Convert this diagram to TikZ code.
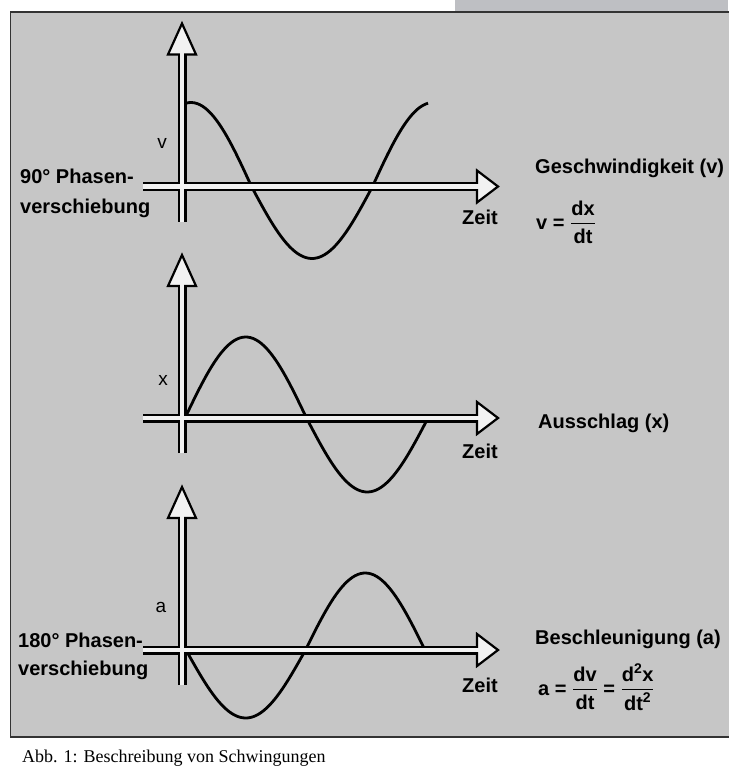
\documentclass[tikz,border=0pt]{standalone}
\usepackage{amsmath}
\usepackage{fontspec}
\setmainfont{Liberation Sans}
\newfontfamily\captionfont{Liberation Serif}

\definecolor{paper}{HTML}{C6C6C6}
\definecolor{tabgrey}{HTML}{BEBFC3}
\definecolor{framegrey}{HTML}{333333}
\definecolor{axisfill}{HTML}{F2F2F2}

\tikzset{
  txt/.style={font=\fontsize{20}{24}\selectfont\bfseries, inner sep=0pt},
  axletter/.style={font=\fontsize{19}{22}\selectfont, inner sep=0pt},
  captxt/.style={font=\captionfont\fontsize{18}{20}\selectfont, inner sep=0pt},
  wave/.style={line width=2.8pt, black, line join=round},
  shaftout/.style={line width=9pt, black},
  shaftin/.style={line width=4.5pt, axisfill},
  axhead/.style={fill=axisfill, draw=black, line width=2.2pt, line join=miter},
}

\begin{document}
\begin{tikzpicture}[x=1pt, y=-1pt]
    \useasboundingbox (0,0) rectangle (728,767);

    % Page and frame
    \fill[tabgrey] (455,0) rectangle (728,12.3);
    \fill[paper] (10.5,12.3) rectangle (740,737);
    \draw[framegrey, line width=1.8pt] (740,12.3) -- (10.5,12.3) -- (10.5,737) -- (740,737);

    % Curves: velocity, displacement, acceleration
    \draw[wave] plot[domain=-7.4:352.6, samples=90] ({191+\x/360*242}, {186.5-84*max(cos(\x),0)-72*min(cos(\x),0)});
    \draw[wave] plot[domain=0:360, samples=90] ({185+\x/360*243}, {418-81*max(sin(\x),0)-74*min(sin(\x),0)});
    \draw[wave] plot[domain=0:360, samples=90] ({186+\x/360*239}, {650+68*max(sin(\x),0)+77*min(sin(\x),0)});

    % Axes (hollow arrows)
    \foreach \ay in {186.5, 418, 650} {
        \draw[shaftout] (143,\ay) -- (478,\ay);
        \draw[shaftout] (182,\ay+35) -- (182,\ay-131);
        \draw[axhead] (477,\ay-16) -- (498,\ay) -- (477,\ay+16) -- cycle;
        \draw[axhead] (168,\ay-132) -- (182,\ay-163) -- (196,\ay-132) -- cycle;
        \draw[shaftin] (143,\ay) -- (480,\ay);
        \draw[shaftin] (182,\ay+35) -- (182,\ay-134);
    }

    % Axis labels
    \node[axletter] (vlbl) at (162,143) {v};
    \node[axletter] (xlbl) at (163,380) {x};
    \node[axletter] (albl) at (161,607) {a};
    \node[txt, anchor=base] (zeit1) at (480,225) {Zeit};
    \node[txt, anchor=base] (zeit2) at (480,458) {Zeit};
    \node[txt, anchor=base] (zeit3) at (480,692) {Zeit};

    % Phase shift notes
    \node[txt, anchor=base west] (phase90a) at (20,184) {90° Phasen-};
    \node[txt, anchor=base west] (phase90b) at (20,213) {verschiebung};
    \node[txt, anchor=base west] (phase180a) at (18,647) {180° Phasen-};
    \node[txt, anchor=base west] (phase180b) at (18,675) {verschiebung};

    % Quantities on the right
    \node[txt, anchor=base west] (speed) at (535,174) {Geschwindigkeit (v)};
    \node[txt, anchor=west] (speedeq) at (536,222) {v = $\dfrac{\text{dx}}{\text{dt}}$};
    \node[txt, anchor=base west] (disp) at (538,428) {Ausschlag (x)};
    \node[txt, anchor=base west] (accel) at (535,644) {Beschleunigung (a)};
    \node[txt, anchor=west] (acceleq) at (538,687) {a = $\dfrac{\text{dv}}{\text{dt}}$ = $\dfrac{\text{d\textsuperscript{2}x}}{\text{dt\textsuperscript{2}}}$};

    % Caption
    \node[captxt, anchor=base west] (caption) at (22,762) {Abb. 1: Beschreibung von Schwingungen};
\end{tikzpicture}
\end{document}
